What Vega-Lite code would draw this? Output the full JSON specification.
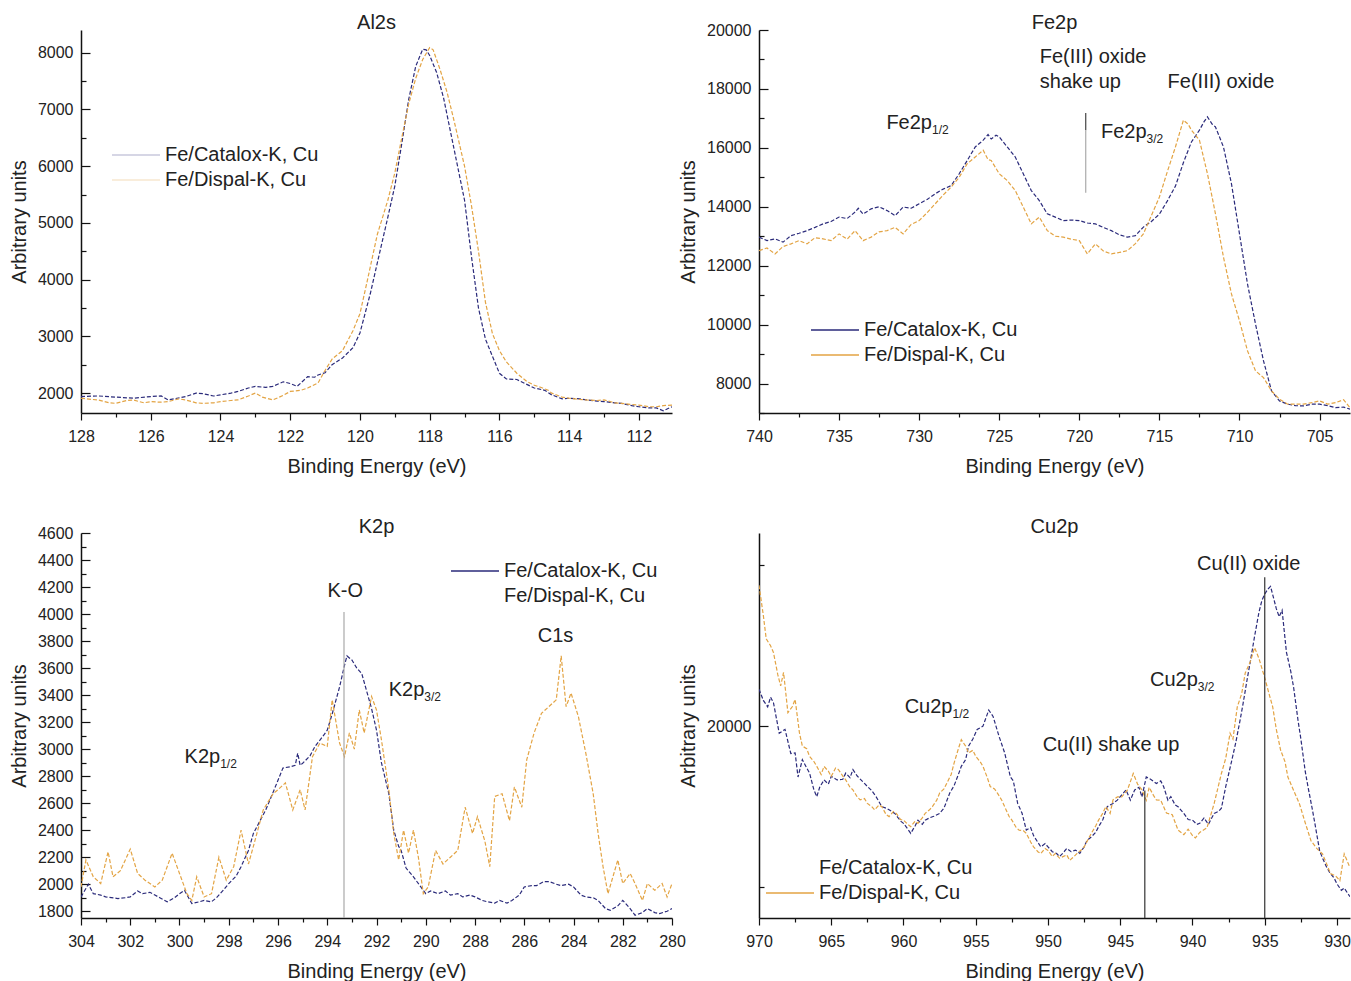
{
"$schema": "https://vega.github.io/schema/vega-lite/v6.json",
"padding": {"left": 9, "top": 13, "right": 0, "bottom": 0},
"config": {
  "font": "Liberation Sans",
  "view": {"stroke": null},
  "axis": {"labelFont": "Liberation Sans", "labelFontSize": 16, "labelColor": "#222", "titleFont": "Liberation Sans", "titleFontSize": 20, "titleFontWeight": "normal", "titleColor": "#222", "domainColor": "#111", "domainWidth": 1.5, "tickColor": "#111", "tickWidth": 1.2, "grid": false, "labelFlush": false, "labelOverlap": false, "format": "d"},
  "axisX": {"labelPadding": 8, "titlePadding": 12},
  "axisY": {"labelPadding": 17, "titlePadding": 8},
  "title": {"font": "Liberation Sans", "fontSize": 20, "fontWeight": "normal", "color": "#222", "anchor": "middle", "frame": "group", "offset": 2},
  "legend": {"orient": "none", "title": null, "symbolType": "M-1.7143,0H1.7143", "symbolSize": 784, "symbolStrokeWidth": 1.5, "symbolDash": [1, 0], "labelFont": "Liberation Sans", "labelFontSize": 20, "labelColor": "#222", "labelOffset": 14, "rowPadding": 0, "padding": 0},
  "text": {"font": "Liberation Sans", "fontSize": 20, "color": "#222"}
},
"columns": 2,
"spacing": {"row": 120, "column": 87},
"bounds": "flush",
"resolve": {"scale": {"color": "independent"}, "legend": {"color": "independent"}},
"datasets": {
"al2s": [
{"s":"Fe/Catalox-K, Cu","e":128,"i":1940},{"s":"Fe/Catalox-K, Cu","e":127.5,"i":1950},{"s":"Fe/Catalox-K, Cu","e":127,"i":1930},{"s":"Fe/Catalox-K, Cu","e":126.5,"i":1910},{"s":"Fe/Catalox-K, Cu","e":126,"i":1940},{"s":"Fe/Catalox-K, Cu","e":125.7,"i":1950},{"s":"Fe/Catalox-K, Cu","e":125.5,"i":1880},{"s":"Fe/Catalox-K, Cu","e":125,"i":1940},{"s":"Fe/Catalox-K, Cu","e":124.7,"i":2000},{"s":"Fe/Catalox-K, Cu","e":124.5,"i":1990},{"s":"Fe/Catalox-K, Cu","e":124.2,"i":1950},{"s":"Fe/Catalox-K, Cu","e":124,"i":1970},{"s":"Fe/Catalox-K, Cu","e":123.7,"i":2000},{"s":"Fe/Catalox-K, Cu","e":123.5,"i":2030},{"s":"Fe/Catalox-K, Cu","e":123.2,"i":2090},{"s":"Fe/Catalox-K, Cu","e":123,"i":2120},{"s":"Fe/Catalox-K, Cu","e":122.7,"i":2100},{"s":"Fe/Catalox-K, Cu","e":122.5,"i":2120},{"s":"Fe/Catalox-K, Cu","e":122.2,"i":2200},{"s":"Fe/Catalox-K, Cu","e":122,"i":2170},{"s":"Fe/Catalox-K, Cu","e":121.8,"i":2120},{"s":"Fe/Catalox-K, Cu","e":121.5,"i":2290},{"s":"Fe/Catalox-K, Cu","e":121.3,"i":2280},{"s":"Fe/Catalox-K, Cu","e":121.2,"i":2320},{"s":"Fe/Catalox-K, Cu","e":121,"i":2360},{"s":"Fe/Catalox-K, Cu","e":120.8,"i":2500},{"s":"Fe/Catalox-K, Cu","e":120.5,"i":2620},{"s":"Fe/Catalox-K, Cu","e":120.2,"i":2800},{"s":"Fe/Catalox-K, Cu","e":120,"i":3060},{"s":"Fe/Catalox-K, Cu","e":119.7,"i":3760},{"s":"Fe/Catalox-K, Cu","e":119.5,"i":4300},{"s":"Fe/Catalox-K, Cu","e":119.2,"i":5100},{"s":"Fe/Catalox-K, Cu","e":119,"i":5650},{"s":"Fe/Catalox-K, Cu","e":118.8,"i":6400},{"s":"Fe/Catalox-K, Cu","e":118.6,"i":7180},{"s":"Fe/Catalox-K, Cu","e":118.4,"i":7760},{"s":"Fe/Catalox-K, Cu","e":118.2,"i":8060},{"s":"Fe/Catalox-K, Cu","e":118.1,"i":8050},{"s":"Fe/Catalox-K, Cu","e":118,"i":7950},{"s":"Fe/Catalox-K, Cu","e":117.8,"i":7650},{"s":"Fe/Catalox-K, Cu","e":117.6,"i":7200},{"s":"Fe/Catalox-K, Cu","e":117.4,"i":6600},{"s":"Fe/Catalox-K, Cu","e":117.2,"i":6000},{"s":"Fe/Catalox-K, Cu","e":117,"i":5400},{"s":"Fe/Catalox-K, Cu","e":116.8,"i":4400},{"s":"Fe/Catalox-K, Cu","e":116.6,"i":3500},{"s":"Fe/Catalox-K, Cu","e":116.4,"i":2950},{"s":"Fe/Catalox-K, Cu","e":116.2,"i":2650},{"s":"Fe/Catalox-K, Cu","e":116,"i":2350},{"s":"Fe/Catalox-K, Cu","e":115.8,"i":2250},{"s":"Fe/Catalox-K, Cu","e":115.5,"i":2240},{"s":"Fe/Catalox-K, Cu","e":115.2,"i":2150},{"s":"Fe/Catalox-K, Cu","e":115,"i":2090},{"s":"Fe/Catalox-K, Cu","e":114.7,"i":2050},{"s":"Fe/Catalox-K, Cu","e":114.5,"i":1970},{"s":"Fe/Catalox-K, Cu","e":114.2,"i":1900},{"s":"Fe/Catalox-K, Cu","e":114,"i":1910},{"s":"Fe/Catalox-K, Cu","e":113.7,"i":1900},{"s":"Fe/Catalox-K, Cu","e":113.5,"i":1880},{"s":"Fe/Catalox-K, Cu","e":113.2,"i":1860},{"s":"Fe/Catalox-K, Cu","e":113,"i":1850},{"s":"Fe/Catalox-K, Cu","e":112.7,"i":1830},{"s":"Fe/Catalox-K, Cu","e":112.5,"i":1820},{"s":"Fe/Catalox-K, Cu","e":112.2,"i":1780},{"s":"Fe/Catalox-K, Cu","e":112,"i":1760},{"s":"Fe/Catalox-K, Cu","e":111.7,"i":1740},{"s":"Fe/Catalox-K, Cu","e":111.5,"i":1740},{"s":"Fe/Catalox-K, Cu","e":111.3,"i":1690},{"s":"Fe/Catalox-K, Cu","e":111.05,"i":1760},
{"s":"Fe/Dispal-K, Cu","e":128,"i":1910},{"s":"Fe/Dispal-K, Cu","e":127.7,"i":1890},{"s":"Fe/Dispal-K, Cu","e":127.5,"i":1880},{"s":"Fe/Dispal-K, Cu","e":127.2,"i":1830},{"s":"Fe/Dispal-K, Cu","e":127,"i":1820},{"s":"Fe/Dispal-K, Cu","e":126.7,"i":1870},{"s":"Fe/Dispal-K, Cu","e":126.5,"i":1880},{"s":"Fe/Dispal-K, Cu","e":126.2,"i":1830},{"s":"Fe/Dispal-K, Cu","e":126,"i":1850},{"s":"Fe/Dispal-K, Cu","e":125.7,"i":1840},{"s":"Fe/Dispal-K, Cu","e":125.5,"i":1850},{"s":"Fe/Dispal-K, Cu","e":125.2,"i":1900},{"s":"Fe/Dispal-K, Cu","e":125,"i":1880},{"s":"Fe/Dispal-K, Cu","e":124.7,"i":1830},{"s":"Fe/Dispal-K, Cu","e":124.5,"i":1820},{"s":"Fe/Dispal-K, Cu","e":124.2,"i":1830},{"s":"Fe/Dispal-K, Cu","e":124,"i":1850},{"s":"Fe/Dispal-K, Cu","e":123.7,"i":1870},{"s":"Fe/Dispal-K, Cu","e":123.5,"i":1880},{"s":"Fe/Dispal-K, Cu","e":123.2,"i":1950},{"s":"Fe/Dispal-K, Cu","e":123,"i":2000},{"s":"Fe/Dispal-K, Cu","e":122.8,"i":1930},{"s":"Fe/Dispal-K, Cu","e":122.5,"i":1880},{"s":"Fe/Dispal-K, Cu","e":122.2,"i":1960},{"s":"Fe/Dispal-K, Cu","e":122,"i":2030},{"s":"Fe/Dispal-K, Cu","e":121.7,"i":2050},{"s":"Fe/Dispal-K, Cu","e":121.5,"i":2090},{"s":"Fe/Dispal-K, Cu","e":121.2,"i":2180},{"s":"Fe/Dispal-K, Cu","e":121,"i":2400},{"s":"Fe/Dispal-K, Cu","e":120.8,"i":2600},{"s":"Fe/Dispal-K, Cu","e":120.5,"i":2750},{"s":"Fe/Dispal-K, Cu","e":120.2,"i":3100},{"s":"Fe/Dispal-K, Cu","e":120,"i":3400},{"s":"Fe/Dispal-K, Cu","e":119.8,"i":3950},{"s":"Fe/Dispal-K, Cu","e":119.5,"i":4800},{"s":"Fe/Dispal-K, Cu","e":119.2,"i":5400},{"s":"Fe/Dispal-K, Cu","e":119,"i":5880},{"s":"Fe/Dispal-K, Cu","e":118.8,"i":6500},{"s":"Fe/Dispal-K, Cu","e":118.6,"i":7100},{"s":"Fe/Dispal-K, Cu","e":118.4,"i":7550},{"s":"Fe/Dispal-K, Cu","e":118.2,"i":7880},{"s":"Fe/Dispal-K, Cu","e":118,"i":8090},{"s":"Fe/Dispal-K, Cu","e":117.9,"i":8050},{"s":"Fe/Dispal-K, Cu","e":117.7,"i":7700},{"s":"Fe/Dispal-K, Cu","e":117.5,"i":7300},{"s":"Fe/Dispal-K, Cu","e":117.3,"i":6800},{"s":"Fe/Dispal-K, Cu","e":117,"i":6000},{"s":"Fe/Dispal-K, Cu","e":116.8,"i":5300},{"s":"Fe/Dispal-K, Cu","e":116.6,"i":4500},{"s":"Fe/Dispal-K, Cu","e":116.4,"i":3600},{"s":"Fe/Dispal-K, Cu","e":116.2,"i":3050},{"s":"Fe/Dispal-K, Cu","e":116,"i":2750},{"s":"Fe/Dispal-K, Cu","e":115.8,"i":2550},{"s":"Fe/Dispal-K, Cu","e":115.5,"i":2350},{"s":"Fe/Dispal-K, Cu","e":115.2,"i":2200},{"s":"Fe/Dispal-K, Cu","e":115,"i":2140},{"s":"Fe/Dispal-K, Cu","e":114.8,"i":2100},{"s":"Fe/Dispal-K, Cu","e":114.6,"i":2050},{"s":"Fe/Dispal-K, Cu","e":114.5,"i":2000},{"s":"Fe/Dispal-K, Cu","e":114.2,"i":1930},{"s":"Fe/Dispal-K, Cu","e":114,"i":1910},{"s":"Fe/Dispal-K, Cu","e":113.7,"i":1890},{"s":"Fe/Dispal-K, Cu","e":113.5,"i":1880},{"s":"Fe/Dispal-K, Cu","e":113.2,"i":1870},{"s":"Fe/Dispal-K, Cu","e":113,"i":1880},{"s":"Fe/Dispal-K, Cu","e":112.7,"i":1830},{"s":"Fe/Dispal-K, Cu","e":112.5,"i":1820},{"s":"Fe/Dispal-K, Cu","e":112.2,"i":1800},{"s":"Fe/Dispal-K, Cu","e":112,"i":1790},{"s":"Fe/Dispal-K, Cu","e":111.7,"i":1760},{"s":"Fe/Dispal-K, Cu","e":111.5,"i":1760},{"s":"Fe/Dispal-K, Cu","e":111.3,"i":1780},{"s":"Fe/Dispal-K, Cu","e":111.05,"i":1790}
],
"fe2p": [
{"s":"Fe/Catalox-K, Cu","e":740,"i":12970},{"s":"Fe/Catalox-K, Cu","e":739.5,"i":12850},{"s":"Fe/Catalox-K, Cu","e":739,"i":12910},{"s":"Fe/Catalox-K, Cu","e":738.5,"i":12800},{"s":"Fe/Catalox-K, Cu","e":738,"i":13020},{"s":"Fe/Catalox-K, Cu","e":737.5,"i":13100},{"s":"Fe/Catalox-K, Cu","e":737,"i":13190},{"s":"Fe/Catalox-K, Cu","e":736.5,"i":13300},{"s":"Fe/Catalox-K, Cu","e":736,"i":13420},{"s":"Fe/Catalox-K, Cu","e":735.5,"i":13500},{"s":"Fe/Catalox-K, Cu","e":735,"i":13650},{"s":"Fe/Catalox-K, Cu","e":734.5,"i":13600},{"s":"Fe/Catalox-K, Cu","e":734,"i":13820},{"s":"Fe/Catalox-K, Cu","e":733.8,"i":13950},{"s":"Fe/Catalox-K, Cu","e":733.5,"i":13750},{"s":"Fe/Catalox-K, Cu","e":733,"i":13930},{"s":"Fe/Catalox-K, Cu","e":732.5,"i":14000},{"s":"Fe/Catalox-K, Cu","e":732,"i":13870},{"s":"Fe/Catalox-K, Cu","e":731.5,"i":13700},{"s":"Fe/Catalox-K, Cu","e":731,"i":13990},{"s":"Fe/Catalox-K, Cu","e":730.5,"i":13950},{"s":"Fe/Catalox-K, Cu","e":730,"i":14100},{"s":"Fe/Catalox-K, Cu","e":729.5,"i":14250},{"s":"Fe/Catalox-K, Cu","e":729,"i":14440},{"s":"Fe/Catalox-K, Cu","e":728.5,"i":14600},{"s":"Fe/Catalox-K, Cu","e":728,"i":14720},{"s":"Fe/Catalox-K, Cu","e":727.5,"i":15120},{"s":"Fe/Catalox-K, Cu","e":727,"i":15570},{"s":"Fe/Catalox-K, Cu","e":726.5,"i":16030},{"s":"Fe/Catalox-K, Cu","e":726,"i":16260},{"s":"Fe/Catalox-K, Cu","e":725.7,"i":16450},{"s":"Fe/Catalox-K, Cu","e":725.5,"i":16300},{"s":"Fe/Catalox-K, Cu","e":725.2,"i":16430},{"s":"Fe/Catalox-K, Cu","e":725,"i":16370},{"s":"Fe/Catalox-K, Cu","e":724.5,"i":16030},{"s":"Fe/Catalox-K, Cu","e":724,"i":15690},{"s":"Fe/Catalox-K, Cu","e":723.5,"i":15120},{"s":"Fe/Catalox-K, Cu","e":723,"i":14550},{"s":"Fe/Catalox-K, Cu","e":722.5,"i":14210},{"s":"Fe/Catalox-K, Cu","e":722,"i":13760},{"s":"Fe/Catalox-K, Cu","e":721.5,"i":13650},{"s":"Fe/Catalox-K, Cu","e":721,"i":13530},{"s":"Fe/Catalox-K, Cu","e":720.5,"i":13550},{"s":"Fe/Catalox-K, Cu","e":720,"i":13530},{"s":"Fe/Catalox-K, Cu","e":719.5,"i":13450},{"s":"Fe/Catalox-K, Cu","e":719,"i":13420},{"s":"Fe/Catalox-K, Cu","e":718.5,"i":13300},{"s":"Fe/Catalox-K, Cu","e":718,"i":13190},{"s":"Fe/Catalox-K, Cu","e":717.5,"i":13050},{"s":"Fe/Catalox-K, Cu","e":717,"i":12970},{"s":"Fe/Catalox-K, Cu","e":716.5,"i":13020},{"s":"Fe/Catalox-K, Cu","e":716,"i":13310},{"s":"Fe/Catalox-K, Cu","e":715.5,"i":13500},{"s":"Fe/Catalox-K, Cu","e":715,"i":13750},{"s":"Fe/Catalox-K, Cu","e":714.5,"i":14200},{"s":"Fe/Catalox-K, Cu","e":714,"i":14700},{"s":"Fe/Catalox-K, Cu","e":713.5,"i":15500},{"s":"Fe/Catalox-K, Cu","e":713,"i":16200},{"s":"Fe/Catalox-K, Cu","e":712.5,"i":16600},{"s":"Fe/Catalox-K, Cu","e":712.2,"i":16900},{"s":"Fe/Catalox-K, Cu","e":712,"i":17050},{"s":"Fe/Catalox-K, Cu","e":711.7,"i":16800},{"s":"Fe/Catalox-K, Cu","e":711.5,"i":16710},{"s":"Fe/Catalox-K, Cu","e":711,"i":16030},{"s":"Fe/Catalox-K, Cu","e":710.5,"i":14780},{"s":"Fe/Catalox-K, Cu","e":710,"i":13080},{"s":"Fe/Catalox-K, Cu","e":709.5,"i":11380},{"s":"Fe/Catalox-K, Cu","e":709,"i":10020},{"s":"Fe/Catalox-K, Cu","e":708.5,"i":8770},{"s":"Fe/Catalox-K, Cu","e":708,"i":7750},{"s":"Fe/Catalox-K, Cu","e":707.5,"i":7410},{"s":"Fe/Catalox-K, Cu","e":707,"i":7300},{"s":"Fe/Catalox-K, Cu","e":706.5,"i":7250},{"s":"Fe/Catalox-K, Cu","e":706,"i":7240},{"s":"Fe/Catalox-K, Cu","e":705.5,"i":7300},{"s":"Fe/Catalox-K, Cu","e":705,"i":7300},{"s":"Fe/Catalox-K, Cu","e":704.5,"i":7250},{"s":"Fe/Catalox-K, Cu","e":704,"i":7180},{"s":"Fe/Catalox-K, Cu","e":703.5,"i":7200},{"s":"Fe/Catalox-K, Cu","e":703.1,"i":7130},
{"s":"Fe/Dispal-K, Cu","e":740,"i":12510},{"s":"Fe/Dispal-K, Cu","e":739.5,"i":12600},{"s":"Fe/Dispal-K, Cu","e":739,"i":12400},{"s":"Fe/Dispal-K, Cu","e":738.5,"i":12650},{"s":"Fe/Dispal-K, Cu","e":738,"i":12740},{"s":"Fe/Dispal-K, Cu","e":737.5,"i":12850},{"s":"Fe/Dispal-K, Cu","e":737,"i":12740},{"s":"Fe/Dispal-K, Cu","e":736.5,"i":12950},{"s":"Fe/Dispal-K, Cu","e":736,"i":12910},{"s":"Fe/Dispal-K, Cu","e":735.5,"i":12850},{"s":"Fe/Dispal-K, Cu","e":735,"i":13080},{"s":"Fe/Dispal-K, Cu","e":734.5,"i":12900},{"s":"Fe/Dispal-K, Cu","e":734,"i":13190},{"s":"Fe/Dispal-K, Cu","e":733.5,"i":12850},{"s":"Fe/Dispal-K, Cu","e":733,"i":12970},{"s":"Fe/Dispal-K, Cu","e":732.5,"i":13150},{"s":"Fe/Dispal-K, Cu","e":732,"i":13190},{"s":"Fe/Dispal-K, Cu","e":731.5,"i":13300},{"s":"Fe/Dispal-K, Cu","e":731,"i":13080},{"s":"Fe/Dispal-K, Cu","e":730.5,"i":13400},{"s":"Fe/Dispal-K, Cu","e":730,"i":13530},{"s":"Fe/Dispal-K, Cu","e":729.5,"i":13800},{"s":"Fe/Dispal-K, Cu","e":729,"i":14100},{"s":"Fe/Dispal-K, Cu","e":728.5,"i":14400},{"s":"Fe/Dispal-K, Cu","e":728,"i":14670},{"s":"Fe/Dispal-K, Cu","e":727.5,"i":15000},{"s":"Fe/Dispal-K, Cu","e":727,"i":15460},{"s":"Fe/Dispal-K, Cu","e":726.5,"i":15690},{"s":"Fe/Dispal-K, Cu","e":726,"i":15920},{"s":"Fe/Dispal-K, Cu","e":725.7,"i":15600},{"s":"Fe/Dispal-K, Cu","e":725.5,"i":15570},{"s":"Fe/Dispal-K, Cu","e":725,"i":15120},{"s":"Fe/Dispal-K, Cu","e":724.5,"i":14890},{"s":"Fe/Dispal-K, Cu","e":724,"i":14550},{"s":"Fe/Dispal-K, Cu","e":723.5,"i":13990},{"s":"Fe/Dispal-K, Cu","e":723,"i":13420},{"s":"Fe/Dispal-K, Cu","e":722.5,"i":13650},{"s":"Fe/Dispal-K, Cu","e":722,"i":13190},{"s":"Fe/Dispal-K, Cu","e":721.5,"i":13000},{"s":"Fe/Dispal-K, Cu","e":721,"i":12970},{"s":"Fe/Dispal-K, Cu","e":720.5,"i":12900},{"s":"Fe/Dispal-K, Cu","e":720,"i":12850},{"s":"Fe/Dispal-K, Cu","e":719.5,"i":12400},{"s":"Fe/Dispal-K, Cu","e":719,"i":12740},{"s":"Fe/Dispal-K, Cu","e":718.5,"i":12500},{"s":"Fe/Dispal-K, Cu","e":718,"i":12400},{"s":"Fe/Dispal-K, Cu","e":717.5,"i":12450},{"s":"Fe/Dispal-K, Cu","e":717,"i":12510},{"s":"Fe/Dispal-K, Cu","e":716.5,"i":12750},{"s":"Fe/Dispal-K, Cu","e":716,"i":13080},{"s":"Fe/Dispal-K, Cu","e":715.5,"i":13700},{"s":"Fe/Dispal-K, Cu","e":715,"i":14330},{"s":"Fe/Dispal-K, Cu","e":714.5,"i":15200},{"s":"Fe/Dispal-K, Cu","e":714,"i":16030},{"s":"Fe/Dispal-K, Cu","e":713.5,"i":16940},{"s":"Fe/Dispal-K, Cu","e":713.2,"i":16800},{"s":"Fe/Dispal-K, Cu","e":713,"i":16600},{"s":"Fe/Dispal-K, Cu","e":712.5,"i":16260},{"s":"Fe/Dispal-K, Cu","e":712,"i":15120},{"s":"Fe/Dispal-K, Cu","e":711.5,"i":13760},{"s":"Fe/Dispal-K, Cu","e":711,"i":12290},{"s":"Fe/Dispal-K, Cu","e":710.5,"i":11040},{"s":"Fe/Dispal-K, Cu","e":710,"i":10130},{"s":"Fe/Dispal-K, Cu","e":709.5,"i":9110},{"s":"Fe/Dispal-K, Cu","e":709,"i":8430},{"s":"Fe/Dispal-K, Cu","e":708.5,"i":8200},{"s":"Fe/Dispal-K, Cu","e":708,"i":7750},{"s":"Fe/Dispal-K, Cu","e":707.5,"i":7470},{"s":"Fe/Dispal-K, Cu","e":707,"i":7300},{"s":"Fe/Dispal-K, Cu","e":706,"i":7300},{"s":"Fe/Dispal-K, Cu","e":705.5,"i":7350},{"s":"Fe/Dispal-K, Cu","e":705,"i":7410},{"s":"Fe/Dispal-K, Cu","e":704.5,"i":7300},{"s":"Fe/Dispal-K, Cu","e":704,"i":7350},{"s":"Fe/Dispal-K, Cu","e":703.5,"i":7450},{"s":"Fe/Dispal-K, Cu","e":703.1,"i":7180}
],
"k2p": [
{"s":"Fe/Catalox-K, Cu","e":304,"i":1906},{"s":"Fe/Catalox-K, Cu","e":303.7,"i":2000},{"s":"Fe/Catalox-K, Cu","e":303.5,"i":1930},{"s":"Fe/Catalox-K, Cu","e":303.2,"i":1920},{"s":"Fe/Catalox-K, Cu","e":303,"i":1906},{"s":"Fe/Catalox-K, Cu","e":302.5,"i":1894},{"s":"Fe/Catalox-K, Cu","e":302.2,"i":1900},{"s":"Fe/Catalox-K, Cu","e":302,"i":1906},{"s":"Fe/Catalox-K, Cu","e":301.7,"i":1950},{"s":"Fe/Catalox-K, Cu","e":301.5,"i":1930},{"s":"Fe/Catalox-K, Cu","e":301.2,"i":1940},{"s":"Fe/Catalox-K, Cu","e":301,"i":1920},{"s":"Fe/Catalox-K, Cu","e":300.8,"i":1900},{"s":"Fe/Catalox-K, Cu","e":300.5,"i":1870},{"s":"Fe/Catalox-K, Cu","e":300.2,"i":1900},{"s":"Fe/Catalox-K, Cu","e":300,"i":1930},{"s":"Fe/Catalox-K, Cu","e":299.8,"i":1955},{"s":"Fe/Catalox-K, Cu","e":299.5,"i":1857},{"s":"Fe/Catalox-K, Cu","e":299.2,"i":1870},{"s":"Fe/Catalox-K, Cu","e":299,"i":1880},{"s":"Fe/Catalox-K, Cu","e":298.7,"i":1870},{"s":"Fe/Catalox-K, Cu","e":298.5,"i":1900},{"s":"Fe/Catalox-K, Cu","e":298.2,"i":1960},{"s":"Fe/Catalox-K, Cu","e":298,"i":2005},{"s":"Fe/Catalox-K, Cu","e":297.7,"i":2060},{"s":"Fe/Catalox-K, Cu","e":297.5,"i":2130},{"s":"Fe/Catalox-K, Cu","e":297.2,"i":2250},{"s":"Fe/Catalox-K, Cu","e":297,"i":2376},{"s":"Fe/Catalox-K, Cu","e":296.7,"i":2480},{"s":"Fe/Catalox-K, Cu","e":296.5,"i":2549},{"s":"Fe/Catalox-K, Cu","e":296.2,"i":2680},{"s":"Fe/Catalox-K, Cu","e":296,"i":2770},{"s":"Fe/Catalox-K, Cu","e":295.8,"i":2860},{"s":"Fe/Catalox-K, Cu","e":295.5,"i":2870},{"s":"Fe/Catalox-K, Cu","e":295.3,"i":2880},{"s":"Fe/Catalox-K, Cu","e":295.2,"i":2970},{"s":"Fe/Catalox-K, Cu","e":295.1,"i":2880},{"s":"Fe/Catalox-K, Cu","e":295,"i":2895},{"s":"Fe/Catalox-K, Cu","e":294.7,"i":2950},{"s":"Fe/Catalox-K, Cu","e":294.5,"i":3020},{"s":"Fe/Catalox-K, Cu","e":294.2,"i":3090},{"s":"Fe/Catalox-K, Cu","e":294,"i":3140},{"s":"Fe/Catalox-K, Cu","e":293.8,"i":3260},{"s":"Fe/Catalox-K, Cu","e":293.5,"i":3460},{"s":"Fe/Catalox-K, Cu","e":293.3,"i":3620},{"s":"Fe/Catalox-K, Cu","e":293.2,"i":3690},{"s":"Fe/Catalox-K, Cu","e":293,"i":3660},{"s":"Fe/Catalox-K, Cu","e":292.8,"i":3600},{"s":"Fe/Catalox-K, Cu","e":292.6,"i":3560},{"s":"Fe/Catalox-K, Cu","e":292.4,"i":3430},{"s":"Fe/Catalox-K, Cu","e":292.2,"i":3300},{"s":"Fe/Catalox-K, Cu","e":292,"i":3140},{"s":"Fe/Catalox-K, Cu","e":291.8,"i":2900},{"s":"Fe/Catalox-K, Cu","e":291.5,"i":2670},{"s":"Fe/Catalox-K, Cu","e":291.3,"i":2400},{"s":"Fe/Catalox-K, Cu","e":291.1,"i":2280},{"s":"Fe/Catalox-K, Cu","e":291,"i":2250},{"s":"Fe/Catalox-K, Cu","e":290.8,"i":2120},{"s":"Fe/Catalox-K, Cu","e":290.5,"i":2055},{"s":"Fe/Catalox-K, Cu","e":290.2,"i":1980},{"s":"Fe/Catalox-K, Cu","e":290,"i":1930},{"s":"Fe/Catalox-K, Cu","e":289.8,"i":1950},{"s":"Fe/Catalox-K, Cu","e":289.5,"i":1930},{"s":"Fe/Catalox-K, Cu","e":289.2,"i":1950},{"s":"Fe/Catalox-K, Cu","e":289,"i":1920},{"s":"Fe/Catalox-K, Cu","e":288.7,"i":1930},{"s":"Fe/Catalox-K, Cu","e":288.5,"i":1906},{"s":"Fe/Catalox-K, Cu","e":288.2,"i":1920},{"s":"Fe/Catalox-K, Cu","e":288,"i":1906},{"s":"Fe/Catalox-K, Cu","e":287.7,"i":1880},{"s":"Fe/Catalox-K, Cu","e":287.5,"i":1870},{"s":"Fe/Catalox-K, Cu","e":287.2,"i":1860},{"s":"Fe/Catalox-K, Cu","e":287,"i":1880},{"s":"Fe/Catalox-K, Cu","e":286.7,"i":1860},{"s":"Fe/Catalox-K, Cu","e":286.5,"i":1880},{"s":"Fe/Catalox-K, Cu","e":286.2,"i":1920},{"s":"Fe/Catalox-K, Cu","e":286,"i":1980},{"s":"Fe/Catalox-K, Cu","e":285.7,"i":1990},{"s":"Fe/Catalox-K, Cu","e":285.5,"i":1990},{"s":"Fe/Catalox-K, Cu","e":285.2,"i":2020},{"s":"Fe/Catalox-K, Cu","e":285,"i":2020},{"s":"Fe/Catalox-K, Cu","e":284.7,"i":2000},{"s":"Fe/Catalox-K, Cu","e":284.5,"i":1990},{"s":"Fe/Catalox-K, Cu","e":284.2,"i":2000},{"s":"Fe/Catalox-K, Cu","e":284,"i":1980},{"s":"Fe/Catalox-K, Cu","e":283.7,"i":1920},{"s":"Fe/Catalox-K, Cu","e":283.5,"i":1906},{"s":"Fe/Catalox-K, Cu","e":283.2,"i":1900},{"s":"Fe/Catalox-K, Cu","e":283,"i":1880},{"s":"Fe/Catalox-K, Cu","e":282.7,"i":1820},{"s":"Fe/Catalox-K, Cu","e":282.5,"i":1807},{"s":"Fe/Catalox-K, Cu","e":282.2,"i":1840},{"s":"Fe/Catalox-K, Cu","e":282,"i":1880},{"s":"Fe/Catalox-K, Cu","e":281.7,"i":1820},{"s":"Fe/Catalox-K, Cu","e":281.5,"i":1770},{"s":"Fe/Catalox-K, Cu","e":281.2,"i":1790},{"s":"Fe/Catalox-K, Cu","e":281,"i":1820},{"s":"Fe/Catalox-K, Cu","e":280.7,"i":1790},{"s":"Fe/Catalox-K, Cu","e":280.5,"i":1783},{"s":"Fe/Catalox-K, Cu","e":280.2,"i":1800},{"s":"Fe/Catalox-K, Cu","e":280,"i":1820},
{"s":"Fe/Dispal-K, Cu","e":304,"i":1980},{"s":"Fe/Dispal-K, Cu","e":303.8,"i":2180},{"s":"Fe/Dispal-K, Cu","e":303.5,"i":2055},{"s":"Fe/Dispal-K, Cu","e":303.2,"i":2005},{"s":"Fe/Dispal-K, Cu","e":302.9,"i":2240},{"s":"Fe/Dispal-K, Cu","e":302.7,"i":2055},{"s":"Fe/Dispal-K, Cu","e":302.4,"i":2100},{"s":"Fe/Dispal-K, Cu","e":302,"i":2260},{"s":"Fe/Dispal-K, Cu","e":301.7,"i":2080},{"s":"Fe/Dispal-K, Cu","e":301.4,"i":2030},{"s":"Fe/Dispal-K, Cu","e":301,"i":1980},{"s":"Fe/Dispal-K, Cu","e":300.7,"i":2030},{"s":"Fe/Dispal-K, Cu","e":300.3,"i":2230},{"s":"Fe/Dispal-K, Cu","e":300,"i":2080},{"s":"Fe/Dispal-K, Cu","e":299.7,"i":1930},{"s":"Fe/Dispal-K, Cu","e":299.5,"i":1880},{"s":"Fe/Dispal-K, Cu","e":299.3,"i":2055},{"s":"Fe/Dispal-K, Cu","e":299,"i":1906},{"s":"Fe/Dispal-K, Cu","e":298.7,"i":1930},{"s":"Fe/Dispal-K, Cu","e":298.4,"i":2200},{"s":"Fe/Dispal-K, Cu","e":298.1,"i":2030},{"s":"Fe/Dispal-K, Cu","e":297.8,"i":2130},{"s":"Fe/Dispal-K, Cu","e":297.5,"i":2400},{"s":"Fe/Dispal-K, Cu","e":297.2,"i":2150},{"s":"Fe/Dispal-K, Cu","e":297,"i":2280},{"s":"Fe/Dispal-K, Cu","e":296.6,"i":2550},{"s":"Fe/Dispal-K, Cu","e":296.2,"i":2670},{"s":"Fe/Dispal-K, Cu","e":296,"i":2700},{"s":"Fe/Dispal-K, Cu","e":295.7,"i":2750},{"s":"Fe/Dispal-K, Cu","e":295.4,"i":2550},{"s":"Fe/Dispal-K, Cu","e":295.1,"i":2700},{"s":"Fe/Dispal-K, Cu","e":294.9,"i":2550},{"s":"Fe/Dispal-K, Cu","e":294.6,"i":2944},{"s":"Fe/Dispal-K, Cu","e":294.3,"i":3045},{"s":"Fe/Dispal-K, Cu","e":294,"i":3020},{"s":"Fe/Dispal-K, Cu","e":293.8,"i":3365},{"s":"Fe/Dispal-K, Cu","e":293.5,"i":3045},{"s":"Fe/Dispal-K, Cu","e":293.3,"i":2944},{"s":"Fe/Dispal-K, Cu","e":293.1,"i":3120},{"s":"Fe/Dispal-K, Cu","e":292.9,"i":3000},{"s":"Fe/Dispal-K, Cu","e":292.7,"i":3290},{"s":"Fe/Dispal-K, Cu","e":292.5,"i":3120},{"s":"Fe/Dispal-K, Cu","e":292.2,"i":3390},{"s":"Fe/Dispal-K, Cu","e":292,"i":3290},{"s":"Fe/Dispal-K, Cu","e":291.8,"i":3070},{"s":"Fe/Dispal-K, Cu","e":291.5,"i":2700},{"s":"Fe/Dispal-K, Cu","e":291.3,"i":2376},{"s":"Fe/Dispal-K, Cu","e":291.1,"i":2180},{"s":"Fe/Dispal-K, Cu","e":290.9,"i":2400},{"s":"Fe/Dispal-K, Cu","e":290.7,"i":2230},{"s":"Fe/Dispal-K, Cu","e":290.5,"i":2400},{"s":"Fe/Dispal-K, Cu","e":290.3,"i":2200},{"s":"Fe/Dispal-K, Cu","e":290.1,"i":1930},{"s":"Fe/Dispal-K, Cu","e":289.9,"i":1980},{"s":"Fe/Dispal-K, Cu","e":289.6,"i":2250},{"s":"Fe/Dispal-K, Cu","e":289.3,"i":2150},{"s":"Fe/Dispal-K, Cu","e":289,"i":2200},{"s":"Fe/Dispal-K, Cu","e":288.7,"i":2250},{"s":"Fe/Dispal-K, Cu","e":288.4,"i":2570},{"s":"Fe/Dispal-K, Cu","e":288.1,"i":2376},{"s":"Fe/Dispal-K, Cu","e":287.9,"i":2500},{"s":"Fe/Dispal-K, Cu","e":287.6,"i":2320},{"s":"Fe/Dispal-K, Cu","e":287.4,"i":2130},{"s":"Fe/Dispal-K, Cu","e":287.2,"i":2650},{"s":"Fe/Dispal-K, Cu","e":286.9,"i":2670},{"s":"Fe/Dispal-K, Cu","e":286.6,"i":2470},{"s":"Fe/Dispal-K, Cu","e":286.4,"i":2720},{"s":"Fe/Dispal-K, Cu","e":286.1,"i":2570},{"s":"Fe/Dispal-K, Cu","e":285.9,"i":2920},{"s":"Fe/Dispal-K, Cu","e":285.6,"i":3120},{"s":"Fe/Dispal-K, Cu","e":285.3,"i":3265},{"s":"Fe/Dispal-K, Cu","e":285,"i":3315},{"s":"Fe/Dispal-K, Cu","e":284.7,"i":3365},{"s":"Fe/Dispal-K, Cu","e":284.5,"i":3690},{"s":"Fe/Dispal-K, Cu","e":284.3,"i":3315},{"s":"Fe/Dispal-K, Cu","e":284.1,"i":3415},{"s":"Fe/Dispal-K, Cu","e":283.8,"i":3240},{"s":"Fe/Dispal-K, Cu","e":283.5,"i":2970},{"s":"Fe/Dispal-K, Cu","e":283.2,"i":2670},{"s":"Fe/Dispal-K, Cu","e":283,"i":2376},{"s":"Fe/Dispal-K, Cu","e":282.8,"i":2130},{"s":"Fe/Dispal-K, Cu","e":282.6,"i":1930},{"s":"Fe/Dispal-K, Cu","e":282.4,"i":2055},{"s":"Fe/Dispal-K, Cu","e":282.2,"i":2180},{"s":"Fe/Dispal-K, Cu","e":282,"i":2005},{"s":"Fe/Dispal-K, Cu","e":281.7,"i":2080},{"s":"Fe/Dispal-K, Cu","e":281.5,"i":2005},{"s":"Fe/Dispal-K, Cu","e":281.2,"i":1880},{"s":"Fe/Dispal-K, Cu","e":281,"i":2005},{"s":"Fe/Dispal-K, Cu","e":280.7,"i":1955},{"s":"Fe/Dispal-K, Cu","e":280.4,"i":2005},{"s":"Fe/Dispal-K, Cu","e":280.2,"i":1906},{"s":"Fe/Dispal-K, Cu","e":280,"i":2005}
],
"cu2p": [
{"s":"Fe/Catalox-K, Cu","e":970,"i":21150},{"s":"Fe/Catalox-K, Cu","e":969.7,"i":20800},{"s":"Fe/Catalox-K, Cu","e":969.4,"i":20600},{"s":"Fe/Catalox-K, Cu","e":969.2,"i":20900},{"s":"Fe/Catalox-K, Cu","e":969,"i":20730},{"s":"Fe/Catalox-K, Cu","e":968.6,"i":19780},{"s":"Fe/Catalox-K, Cu","e":968.2,"i":19900},{"s":"Fe/Catalox-K, Cu","e":967.8,"i":19150},{"s":"Fe/Catalox-K, Cu","e":967.5,"i":19170},{"s":"Fe/Catalox-K, Cu","e":967.3,"i":18420},{"s":"Fe/Catalox-K, Cu","e":967,"i":18960},{"s":"Fe/Catalox-K, Cu","e":966.7,"i":18700},{"s":"Fe/Catalox-K, Cu","e":966.5,"i":18540},{"s":"Fe/Catalox-K, Cu","e":966.2,"i":18020},{"s":"Fe/Catalox-K, Cu","e":966,"i":17810},{"s":"Fe/Catalox-K, Cu","e":965.8,"i":18100},{"s":"Fe/Catalox-K, Cu","e":965.5,"i":18330},{"s":"Fe/Catalox-K, Cu","e":965.2,"i":18200},{"s":"Fe/Catalox-K, Cu","e":965,"i":18440},{"s":"Fe/Catalox-K, Cu","e":964.6,"i":18330},{"s":"Fe/Catalox-K, Cu","e":964.2,"i":18350},{"s":"Fe/Catalox-K, Cu","e":964,"i":18540},{"s":"Fe/Catalox-K, Cu","e":963.7,"i":18400},{"s":"Fe/Catalox-K, Cu","e":963.5,"i":18650},{"s":"Fe/Catalox-K, Cu","e":963.2,"i":18450},{"s":"Fe/Catalox-K, Cu","e":962.7,"i":18220},{"s":"Fe/Catalox-K, Cu","e":962.5,"i":18125},{"s":"Fe/Catalox-K, Cu","e":962.2,"i":18000},{"s":"Fe/Catalox-K, Cu","e":961.9,"i":17810},{"s":"Fe/Catalox-K, Cu","e":961.5,"i":17500},{"s":"Fe/Catalox-K, Cu","e":961.2,"i":17450},{"s":"Fe/Catalox-K, Cu","e":961,"i":17400},{"s":"Fe/Catalox-K, Cu","e":960.6,"i":17290},{"s":"Fe/Catalox-K, Cu","e":960.2,"i":17050},{"s":"Fe/Catalox-K, Cu","e":960,"i":16980},{"s":"Fe/Catalox-K, Cu","e":959.7,"i":16800},{"s":"Fe/Catalox-K, Cu","e":959.5,"i":16670},{"s":"Fe/Catalox-K, Cu","e":959.2,"i":16900},{"s":"Fe/Catalox-K, Cu","e":959,"i":17080},{"s":"Fe/Catalox-K, Cu","e":958.7,"i":16950},{"s":"Fe/Catalox-K, Cu","e":958.5,"i":17080},{"s":"Fe/Catalox-K, Cu","e":958.2,"i":17150},{"s":"Fe/Catalox-K, Cu","e":957.9,"i":17200},{"s":"Fe/Catalox-K, Cu","e":957.5,"i":17290},{"s":"Fe/Catalox-K, Cu","e":957.2,"i":17450},{"s":"Fe/Catalox-K, Cu","e":956.8,"i":17920},{"s":"Fe/Catalox-K, Cu","e":956.5,"i":18150},{"s":"Fe/Catalox-K, Cu","e":956.2,"i":18500},{"s":"Fe/Catalox-K, Cu","e":956,"i":18750},{"s":"Fe/Catalox-K, Cu","e":955.7,"i":18960},{"s":"Fe/Catalox-K, Cu","e":955.5,"i":19380},{"s":"Fe/Catalox-K, Cu","e":955.2,"i":19600},{"s":"Fe/Catalox-K, Cu","e":954.9,"i":19900},{"s":"Fe/Catalox-K, Cu","e":954.5,"i":20000},{"s":"Fe/Catalox-K, Cu","e":954.1,"i":20500},{"s":"Fe/Catalox-K, Cu","e":953.8,"i":20300},{"s":"Fe/Catalox-K, Cu","e":953.4,"i":19700},{"s":"Fe/Catalox-K, Cu","e":953,"i":19170},{"s":"Fe/Catalox-K, Cu","e":952.6,"i":18420},{"s":"Fe/Catalox-K, Cu","e":952.4,"i":18300},{"s":"Fe/Catalox-K, Cu","e":952.1,"i":17600},{"s":"Fe/Catalox-K, Cu","e":951.8,"i":17300},{"s":"Fe/Catalox-K, Cu","e":951.5,"i":16770},{"s":"Fe/Catalox-K, Cu","e":951.2,"i":16850},{"s":"Fe/Catalox-K, Cu","e":951,"i":16600},{"s":"Fe/Catalox-K, Cu","e":950.5,"i":16250},{"s":"Fe/Catalox-K, Cu","e":950.2,"i":16350},{"s":"Fe/Catalox-K, Cu","e":950,"i":16250},{"s":"Fe/Catalox-K, Cu","e":949.7,"i":16100},{"s":"Fe/Catalox-K, Cu","e":949.4,"i":16040},{"s":"Fe/Catalox-K, Cu","e":949.2,"i":15950},{"s":"Fe/Catalox-K, Cu","e":949,"i":16040},{"s":"Fe/Catalox-K, Cu","e":948.7,"i":16200},{"s":"Fe/Catalox-K, Cu","e":948.4,"i":16100},{"s":"Fe/Catalox-K, Cu","e":948.1,"i":16150},{"s":"Fe/Catalox-K, Cu","e":947.8,"i":16050},{"s":"Fe/Catalox-K, Cu","e":947.5,"i":16250},{"s":"Fe/Catalox-K, Cu","e":947.3,"i":16450},{"s":"Fe/Catalox-K, Cu","e":947,"i":16560},{"s":"Fe/Catalox-K, Cu","e":946.7,"i":16700},{"s":"Fe/Catalox-K, Cu","e":946.5,"i":16875},{"s":"Fe/Catalox-K, Cu","e":946.2,"i":17100},{"s":"Fe/Catalox-K, Cu","e":945.9,"i":17500},{"s":"Fe/Catalox-K, Cu","e":945.5,"i":17600},{"s":"Fe/Catalox-K, Cu","e":945.2,"i":17700},{"s":"Fe/Catalox-K, Cu","e":945,"i":17810},{"s":"Fe/Catalox-K, Cu","e":944.6,"i":18020},{"s":"Fe/Catalox-K, Cu","e":944.3,"i":17700},{"s":"Fe/Catalox-K, Cu","e":944,"i":18020},{"s":"Fe/Catalox-K, Cu","e":943.7,"i":18100},{"s":"Fe/Catalox-K, Cu","e":943.5,"i":17800},{"s":"Fe/Catalox-K, Cu","e":943.2,"i":18420},{"s":"Fe/Catalox-K, Cu","e":942.9,"i":18350},{"s":"Fe/Catalox-K, Cu","e":942.5,"i":18220},{"s":"Fe/Catalox-K, Cu","e":942.2,"i":18300},{"s":"Fe/Catalox-K, Cu","e":942,"i":18125},{"s":"Fe/Catalox-K, Cu","e":941.7,"i":17700},{"s":"Fe/Catalox-K, Cu","e":941.5,"i":17810},{"s":"Fe/Catalox-K, Cu","e":941.2,"i":17550},{"s":"Fe/Catalox-K, Cu","e":941,"i":17500},{"s":"Fe/Catalox-K, Cu","e":940.6,"i":17290},{"s":"Fe/Catalox-K, Cu","e":940.3,"i":17100},{"s":"Fe/Catalox-K, Cu","e":940,"i":17080},{"s":"Fe/Catalox-K, Cu","e":939.7,"i":16950},{"s":"Fe/Catalox-K, Cu","e":939.5,"i":16980},{"s":"Fe/Catalox-K, Cu","e":939.2,"i":17150},{"s":"Fe/Catalox-K, Cu","e":938.9,"i":16950},{"s":"Fe/Catalox-K, Cu","e":938.5,"i":17290},{"s":"Fe/Catalox-K, Cu","e":938.2,"i":17350},{"s":"Fe/Catalox-K, Cu","e":938,"i":17450},{"s":"Fe/Catalox-K, Cu","e":937.7,"i":18120},{"s":"Fe/Catalox-K, Cu","e":937.3,"i":18900},{"s":"Fe/Catalox-K, Cu","e":937,"i":19500},{"s":"Fe/Catalox-K, Cu","e":936.7,"i":20200},{"s":"Fe/Catalox-K, Cu","e":936.5,"i":20700},{"s":"Fe/Catalox-K, Cu","e":936.2,"i":21500},{"s":"Fe/Catalox-K, Cu","e":936,"i":22000},{"s":"Fe/Catalox-K, Cu","e":935.7,"i":22800},{"s":"Fe/Catalox-K, Cu","e":935.4,"i":23540},{"s":"Fe/Catalox-K, Cu","e":935.2,"i":23900},{"s":"Fe/Catalox-K, Cu","e":935,"i":24100},{"s":"Fe/Catalox-K, Cu","e":934.8,"i":24250},{"s":"Fe/Catalox-K, Cu","e":934.6,"i":24340},{"s":"Fe/Catalox-K, Cu","e":934.4,"i":24000},{"s":"Fe/Catalox-K, Cu","e":934.2,"i":23650},{"s":"Fe/Catalox-K, Cu","e":934,"i":23400},{"s":"Fe/Catalox-K, Cu","e":933.8,"i":23600},{"s":"Fe/Catalox-K, Cu","e":933.5,"i":22300},{"s":"Fe/Catalox-K, Cu","e":933.2,"i":21700},{"s":"Fe/Catalox-K, Cu","e":933,"i":21200},{"s":"Fe/Catalox-K, Cu","e":932.7,"i":20190},{"s":"Fe/Catalox-K, Cu","e":932.5,"i":19600},{"s":"Fe/Catalox-K, Cu","e":932.2,"i":18600},{"s":"Fe/Catalox-K, Cu","e":932,"i":18100},{"s":"Fe/Catalox-K, Cu","e":931.7,"i":17400},{"s":"Fe/Catalox-K, Cu","e":931.5,"i":16900},{"s":"Fe/Catalox-K, Cu","e":931.2,"i":16125},{"s":"Fe/Catalox-K, Cu","e":931,"i":15900},{"s":"Fe/Catalox-K, Cu","e":930.7,"i":15600},{"s":"Fe/Catalox-K, Cu","e":930.5,"i":15450},{"s":"Fe/Catalox-K, Cu","e":930.2,"i":15280},{"s":"Fe/Catalox-K, Cu","e":930,"i":15100},{"s":"Fe/Catalox-K, Cu","e":929.7,"i":14900},{"s":"Fe/Catalox-K, Cu","e":929.5,"i":14970},{"s":"Fe/Catalox-K, Cu","e":929.1,"i":14700},
{"s":"Fe/Dispal-K, Cu","e":970,"i":24375},{"s":"Fe/Dispal-K, Cu","e":969.7,"i":23440},{"s":"Fe/Dispal-K, Cu","e":969.5,"i":22710},{"s":"Fe/Dispal-K, Cu","e":969.2,"i":22500},{"s":"Fe/Dispal-K, Cu","e":969,"i":22290},{"s":"Fe/Dispal-K, Cu","e":968.7,"i":21600},{"s":"Fe/Dispal-K, Cu","e":968.5,"i":21250},{"s":"Fe/Dispal-K, Cu","e":968.3,"i":21670},{"s":"Fe/Dispal-K, Cu","e":968,"i":20420},{"s":"Fe/Dispal-K, Cu","e":967.7,"i":20600},{"s":"Fe/Dispal-K, Cu","e":967.5,"i":20830},{"s":"Fe/Dispal-K, Cu","e":967.2,"i":19790},{"s":"Fe/Dispal-K, Cu","e":967,"i":19380},{"s":"Fe/Dispal-K, Cu","e":966.7,"i":19300},{"s":"Fe/Dispal-K, Cu","e":966.5,"i":19060},{"s":"Fe/Dispal-K, Cu","e":966.2,"i":18900},{"s":"Fe/Dispal-K, Cu","e":966,"i":18750},{"s":"Fe/Dispal-K, Cu","e":965.7,"i":18500},{"s":"Fe/Dispal-K, Cu","e":965.5,"i":18750},{"s":"Fe/Dispal-K, Cu","e":965.2,"i":18600},{"s":"Fe/Dispal-K, Cu","e":965,"i":18440},{"s":"Fe/Dispal-K, Cu","e":964.7,"i":18700},{"s":"Fe/Dispal-K, Cu","e":964.5,"i":18650},{"s":"Fe/Dispal-K, Cu","e":964.2,"i":18450},{"s":"Fe/Dispal-K, Cu","e":964,"i":18330},{"s":"Fe/Dispal-K, Cu","e":963.7,"i":18100},{"s":"Fe/Dispal-K, Cu","e":963.5,"i":18020},{"s":"Fe/Dispal-K, Cu","e":963.2,"i":17800},{"s":"Fe/Dispal-K, Cu","e":963,"i":17710},{"s":"Fe/Dispal-K, Cu","e":962.7,"i":17750},{"s":"Fe/Dispal-K, Cu","e":962.5,"i":17600},{"s":"Fe/Dispal-K, Cu","e":962.2,"i":17500},{"s":"Fe/Dispal-K, Cu","e":962,"i":17400},{"s":"Fe/Dispal-K, Cu","e":961.7,"i":17550},{"s":"Fe/Dispal-K, Cu","e":961.5,"i":17500},{"s":"Fe/Dispal-K, Cu","e":961.2,"i":17250},{"s":"Fe/Dispal-K, Cu","e":961,"i":17190},{"s":"Fe/Dispal-K, Cu","e":960.7,"i":17350},{"s":"Fe/Dispal-K, Cu","e":960.5,"i":17290},{"s":"Fe/Dispal-K, Cu","e":960.2,"i":17100},{"s":"Fe/Dispal-K, Cu","e":960,"i":17080},{"s":"Fe/Dispal-K, Cu","e":959.7,"i":16950},{"s":"Fe/Dispal-K, Cu","e":959.5,"i":16875},{"s":"Fe/Dispal-K, Cu","e":959.2,"i":17050},{"s":"Fe/Dispal-K, Cu","e":959,"i":16980},{"s":"Fe/Dispal-K, Cu","e":958.7,"i":17150},{"s":"Fe/Dispal-K, Cu","e":958.5,"i":17290},{"s":"Fe/Dispal-K, Cu","e":958.2,"i":17400},{"s":"Fe/Dispal-K, Cu","e":958,"i":17500},{"s":"Fe/Dispal-K, Cu","e":957.7,"i":17700},{"s":"Fe/Dispal-K, Cu","e":957.5,"i":17920},{"s":"Fe/Dispal-K, Cu","e":957.2,"i":18050},{"s":"Fe/Dispal-K, Cu","e":957,"i":18230},{"s":"Fe/Dispal-K, Cu","e":956.7,"i":18500},{"s":"Fe/Dispal-K, Cu","e":956.5,"i":18850},{"s":"Fe/Dispal-K, Cu","e":956.2,"i":19300},{"s":"Fe/Dispal-K, Cu","e":956,"i":19580},{"s":"Fe/Dispal-K, Cu","e":955.7,"i":19380},{"s":"Fe/Dispal-K, Cu","e":955.5,"i":19170},{"s":"Fe/Dispal-K, Cu","e":955.2,"i":19250},{"s":"Fe/Dispal-K, Cu","e":955,"i":19060},{"s":"Fe/Dispal-K, Cu","e":954.7,"i":18900},{"s":"Fe/Dispal-K, Cu","e":954.5,"i":18750},{"s":"Fe/Dispal-K, Cu","e":954.2,"i":18400},{"s":"Fe/Dispal-K, Cu","e":954,"i":18125},{"s":"Fe/Dispal-K, Cu","e":953.7,"i":18050},{"s":"Fe/Dispal-K, Cu","e":953.5,"i":17920},{"s":"Fe/Dispal-K, Cu","e":953.2,"i":17700},{"s":"Fe/Dispal-K, Cu","e":953,"i":17500},{"s":"Fe/Dispal-K, Cu","e":952.7,"i":17200},{"s":"Fe/Dispal-K, Cu","e":952.5,"i":17080},{"s":"Fe/Dispal-K, Cu","e":952.2,"i":16850},{"s":"Fe/Dispal-K, Cu","e":952,"i":16770},{"s":"Fe/Dispal-K, Cu","e":951.7,"i":16750},{"s":"Fe/Dispal-K, Cu","e":951.5,"i":16670},{"s":"Fe/Dispal-K, Cu","e":951.2,"i":16400},{"s":"Fe/Dispal-K, Cu","e":951,"i":16250},{"s":"Fe/Dispal-K, Cu","e":950.7,"i":16100},{"s":"Fe/Dispal-K, Cu","e":950.5,"i":16040},{"s":"Fe/Dispal-K, Cu","e":950.2,"i":16200},{"s":"Fe/Dispal-K, Cu","e":950,"i":16140},{"s":"Fe/Dispal-K, Cu","e":949.7,"i":15950},{"s":"Fe/Dispal-K, Cu","e":949.5,"i":16040},{"s":"Fe/Dispal-K, Cu","e":949.2,"i":15900},{"s":"Fe/Dispal-K, Cu","e":949,"i":15940},{"s":"Fe/Dispal-K, Cu","e":948.7,"i":16000},{"s":"Fe/Dispal-K, Cu","e":948.5,"i":15830},{"s":"Fe/Dispal-K, Cu","e":948.2,"i":15950},{"s":"Fe/Dispal-K, Cu","e":948,"i":16040},{"s":"Fe/Dispal-K, Cu","e":947.7,"i":16150},{"s":"Fe/Dispal-K, Cu","e":947.5,"i":16250},{"s":"Fe/Dispal-K, Cu","e":947.2,"i":16500},{"s":"Fe/Dispal-K, Cu","e":947,"i":16670},{"s":"Fe/Dispal-K, Cu","e":946.7,"i":16900},{"s":"Fe/Dispal-K, Cu","e":946.5,"i":17080},{"s":"Fe/Dispal-K, Cu","e":946.2,"i":17300},{"s":"Fe/Dispal-K, Cu","e":946,"i":17500},{"s":"Fe/Dispal-K, Cu","e":945.7,"i":17290},{"s":"Fe/Dispal-K, Cu","e":945.5,"i":17710},{"s":"Fe/Dispal-K, Cu","e":945.2,"i":17800},{"s":"Fe/Dispal-K, Cu","e":944.9,"i":17800},{"s":"Fe/Dispal-K, Cu","e":944.5,"i":18020},{"s":"Fe/Dispal-K, Cu","e":944.1,"i":18530},{"s":"Fe/Dispal-K, Cu","e":943.8,"i":18200},{"s":"Fe/Dispal-K, Cu","e":943.5,"i":18020},{"s":"Fe/Dispal-K, Cu","e":943.2,"i":17700},{"s":"Fe/Dispal-K, Cu","e":943,"i":18100},{"s":"Fe/Dispal-K, Cu","e":942.7,"i":17850},{"s":"Fe/Dispal-K, Cu","e":942.5,"i":17710},{"s":"Fe/Dispal-K, Cu","e":942.2,"i":17700},{"s":"Fe/Dispal-K, Cu","e":941.8,"i":17300},{"s":"Fe/Dispal-K, Cu","e":941.4,"i":17250},{"s":"Fe/Dispal-K, Cu","e":941,"i":16770},{"s":"Fe/Dispal-K, Cu","e":940.6,"i":16630},{"s":"Fe/Dispal-K, Cu","e":940.3,"i":16800},{"s":"Fe/Dispal-K, Cu","e":940,"i":16600},{"s":"Fe/Dispal-K, Cu","e":939.8,"i":16530},{"s":"Fe/Dispal-K, Cu","e":939.5,"i":16700},{"s":"Fe/Dispal-K, Cu","e":939,"i":16840},{"s":"Fe/Dispal-K, Cu","e":938.5,"i":17600},{"s":"Fe/Dispal-K, Cu","e":938,"i":18530},{"s":"Fe/Dispal-K, Cu","e":937.7,"i":19000},{"s":"Fe/Dispal-K, Cu","e":937.4,"i":19780},{"s":"Fe/Dispal-K, Cu","e":937.2,"i":19600},{"s":"Fe/Dispal-K, Cu","e":936.9,"i":20600},{"s":"Fe/Dispal-K, Cu","e":936.6,"i":21000},{"s":"Fe/Dispal-K, Cu","e":936.35,"i":21650},{"s":"Fe/Dispal-K, Cu","e":936,"i":22000},{"s":"Fe/Dispal-K, Cu","e":935.7,"i":22440},{"s":"Fe/Dispal-K, Cu","e":935.4,"i":22100},{"s":"Fe/Dispal-K, Cu","e":935,"i":21500},{"s":"Fe/Dispal-K, Cu","e":934.7,"i":21000},{"s":"Fe/Dispal-K, Cu","e":934.45,"i":20600},{"s":"Fe/Dispal-K, Cu","e":934.2,"i":19900},{"s":"Fe/Dispal-K, Cu","e":933.9,"i":19250},{"s":"Fe/Dispal-K, Cu","e":933.6,"i":18900},{"s":"Fe/Dispal-K, Cu","e":933.4,"i":18420},{"s":"Fe/Dispal-K, Cu","e":933,"i":18000},{"s":"Fe/Dispal-K, Cu","e":932.6,"i":17590},{"s":"Fe/Dispal-K, Cu","e":932.2,"i":17000},{"s":"Fe/Dispal-K, Cu","e":931.8,"i":16440},{"s":"Fe/Dispal-K, Cu","e":931.4,"i":16200},{"s":"Fe/Dispal-K, Cu","e":931,"i":16030},{"s":"Fe/Dispal-K, Cu","e":930.7,"i":15700},{"s":"Fe/Dispal-K, Cu","e":930.45,"i":15420},{"s":"Fe/Dispal-K, Cu","e":930.1,"i":15350},{"s":"Fe/Dispal-K, Cu","e":929.8,"i":15200},{"s":"Fe/Dispal-K, Cu","e":929.5,"i":16030},{"s":"Fe/Dispal-K, Cu","e":929.1,"i":15600}
]
},
"concat": [
{
 "width": 591, "height": 383,
 "title": {"text": "Al2s", "dy": 5},
 "layer": [
  {"data": {"name": "al2s"},
   "mark": {"type": "line", "strokeWidth": 1.2, "strokeDash": [4, 2], "clip": true},
   "encoding": {
    "x": {"field": "e", "type": "quantitative", "scale": {"domain": [111.05, 128], "reverse": true, "nice": false, "zero": false},
          "axis": {"title": "Binding Energy (eV)", "labelOverlap": false, "tickCount": 100, "values": [112,113,114,115,116,117,118,119,120,121,122,123,124,125,126,127,128], "labelExpr": "datum.value % 2 === 0 ? datum.label : ''", "tickSize": {"condition": {"test": "datum.value % 2 === 0", "value": 7}, "value": 4}}},
    "y": {"field": "i", "type": "quantitative", "scale": {"domain": [1650, 8400], "nice": false, "zero": false},
          "axis": {"title": "Arbitrary units", "labelOverlap": false, "tickCount": 100, "values": [2000,2500,3000,3500,4000,4500,5000,5500,6000,6500,7000,7500,8000], "labelExpr": "datum.value % 1000 === 0 ? datum.label : ''", "tickSize": {"condition": {"test": "datum.value % 1000 === 0", "value": -9}, "value": -5}}},
    "color": {"field": "s", "type": "nominal", "scale": {"domain": ["Fe/Catalox-K, Cu", "Fe/Dispal-K, Cu"], "range": ["#2b2b7b", "#e3a444"]},
              "legend": {"legendX": 40, "legendY": 110, "symbolOpacity": 0.25}}
   }
  }
 ]
},
{
 "width": 591, "height": 383,
 "title": {"text": "Fe2p", "dy": 13},
 "layer": [
  {"data": {"name": "fe2p"},
   "mark": {"type": "line", "strokeWidth": 1.2, "strokeDash": [4, 2], "clip": true},
   "encoding": {
    "x": {"field": "e", "type": "quantitative", "scale": {"domain": [703.1, 740], "reverse": true, "nice": false, "zero": false},
          "axis": {"title": "Binding Energy (eV)", "labelOverlap": false, "tickCount": 100, "values": [705,707.5,710,712.5,715,717.5,720,722.5,725,727.5,730,732.5,735,737.5,740], "labelExpr": "datum.value % 5 === 0 ? datum.label : ''", "tickSize": {"condition": {"test": "datum.value % 5 === 0", "value": 7}, "value": 4}}},
    "y": {"field": "i", "type": "quantitative", "scale": {"domain": [7000, 20000], "nice": false, "zero": false},
          "axis": {"title": "Arbitrary units", "labelOverlap": false, "tickCount": 100, "values": [7000,8000,9000,10000,11000,12000,13000,14000,15000,16000,17000,18000,19000,20000], "labelExpr": "datum.value % 2000 === 0 ? datum.label : ''", "tickSize": {"condition": {"test": "datum.value % 2000 === 0", "value": -9}, "value": -5}}},
    "color": {"field": "s", "type": "nominal", "scale": {"domain": ["Fe/Catalox-K, Cu", "Fe/Dispal-K, Cu"], "range": ["#2b2b7b", "#e3a444"]},
              "legend": {"legendX": 61, "legendY": 285}}
   }
  },
  {"data": {"values": [{"x": 719.6, "y": 17187, "y2": 16600}]},
   "mark": {"type": "rule", "color": "#444", "strokeWidth": 1.2},
   "encoding": {"x": {"field": "x", "type": "quantitative"}, "y": {"field": "y", "type": "quantitative"}, "y2": {"field": "y2"}}},
  {"data": {"values": [{"x": 719.6, "y": 16600, "y2": 14475}]},
   "mark": {"type": "rule", "color": "#aaa", "strokeWidth": 1.2},
   "encoding": {"x": {"field": "x", "type": "quantitative"}, "y": {"field": "y", "type": "quantitative"}, "y2": {"field": "y2"}}},
  {"data": {"values": [{"x": 722.47, "y": 19085, "t": "Fe(III) oxide"}, {"x": 722.47, "y": 18238, "t": "shake up"}, {"x": 714.49, "y": 18238, "t": "Fe(III) oxide"}]},
   "mark": {"type": "text", "align": "left", "baseline": "middle"},
   "encoding": {"x": {"field": "x", "type": "quantitative"}, "y": {"field": "y", "type": "quantitative"}, "text": {"field": "t"}}},
  {"data": {"values": [{"x": 729.2, "y": 16848, "t": "Fe2p"}, {"x": 715.8, "y": 16543, "t": "Fe2p"}]},
   "mark": {"type": "text", "align": "right", "baseline": "middle"},
   "encoding": {"x": {"field": "x", "type": "quantitative"}, "y": {"field": "y", "type": "quantitative"}, "text": {"field": "t"}}},
  {"data": {"values": [{"x": 729.2, "y": 16848, "t": "1/2"}, {"x": 715.8, "y": 16543, "t": "3/2"}]},
   "mark": {"type": "text", "align": "left", "baseline": "middle", "fontSize": 12, "dy": 7},
   "encoding": {"x": {"field": "x", "type": "quantitative"}, "y": {"field": "y", "type": "quantitative"}, "text": {"field": "t"}}}
 ]
},
{
 "width": 591, "height": 385,
 "title": {"text": "K2p", "dy": 14},
 "layer": [
  {"data": {"name": "k2p"},
   "mark": {"type": "line", "strokeWidth": 1.2, "strokeDash": [4, 2], "clip": true},
   "encoding": {
    "x": {"field": "e", "type": "quantitative", "scale": {"domain": [280, 304], "reverse": true, "nice": false, "zero": false},
          "axis": {"title": "Binding Energy (eV)", "labelOverlap": false, "tickCount": 100, "values": [280,281,282,283,284,285,286,287,288,289,290,291,292,293,294,295,296,297,298,299,300,301,302,303,304], "labelExpr": "datum.value % 2 === 0 ? datum.label : ''", "tickSize": {"condition": {"test": "datum.value % 2 === 0", "value": 7}, "value": 4}}},
    "y": {"field": "i", "type": "quantitative", "scale": {"domain": [1750, 4600], "nice": false, "zero": false},
          "axis": {"title": "Arbitrary units", "labelOverlap": false, "tickCount": 100, "values": [1800,1900,2000,2100,2200,2300,2400,2500,2600,2700,2800,2900,3000,3100,3200,3300,3400,3500,3600,3700,3800,3900,4000,4100,4200,4300,4400,4500,4600], "labelExpr": "datum.value % 200 === 0 ? datum.label : ''", "tickSize": {"condition": {"test": "datum.value % 200 === 0", "value": -9}, "value": -5}}},
    "color": {"field": "s", "type": "nominal", "scale": {"domain": ["Fe/Catalox-K, Cu", "Fe/Dispal-K, Cu"], "range": ["#2b2b7b", "#e3a444"]},
              "legend": {"legendX": 379, "legendY": 23, "encode": {"symbols": {"update": {"opacity": {"signal": "datum.value === 'Fe/Dispal-K, Cu' ? 0 : 1"}}}}}}
   }
  },
  {"data": {"values": [{"x": 293.32, "y": 4015, "y2": 1750}]},
   "mark": {"type": "rule", "color": "#aaa", "strokeWidth": 1.2},
   "encoding": {"x": {"field": "x", "type": "quantitative"}, "y": {"field": "y", "type": "quantitative"}, "y2": {"field": "y2"}}},
  {"data": {"values": [{"x": 293.27, "y": 4170, "t": "K-O"}, {"x": 284.73, "y": 3837, "t": "C1s"}]},
   "mark": {"type": "text", "align": "center", "baseline": "middle"},
   "encoding": {"x": {"field": "x", "type": "quantitative"}, "y": {"field": "y", "type": "quantitative"}, "text": {"field": "t"}}},
  {"data": {"values": [{"x": 298.35, "y": 2941, "t": "K2p"}, {"x": 290.06, "y": 3437, "t": "K2p"}]},
   "mark": {"type": "text", "align": "right", "baseline": "middle"},
   "encoding": {"x": {"field": "x", "type": "quantitative"}, "y": {"field": "y", "type": "quantitative"}, "text": {"field": "t"}}},
  {"data": {"values": [{"x": 298.35, "y": 2941, "t": "1/2"}, {"x": 290.06, "y": 3437, "t": "3/2"}]},
   "mark": {"type": "text", "align": "left", "baseline": "middle", "fontSize": 12, "dy": 7},
   "encoding": {"x": {"field": "x", "type": "quantitative"}, "y": {"field": "y", "type": "quantitative"}, "text": {"field": "t"}}}
 ]
},
{
 "width": 591, "height": 385,
 "title": {"text": "Cu2p", "dy": 6},
 "layer": [
  {"data": {"name": "cu2p"},
   "mark": {"type": "line", "strokeWidth": 1.2, "strokeDash": [4, 2], "clip": true},
   "encoding": {
    "x": {"field": "e", "type": "quantitative", "scale": {"domain": [929.1, 970], "reverse": true, "nice": false, "zero": false},
          "axis": {"title": "Binding Energy (eV)", "labelOverlap": false, "tickCount": 100, "values": [930,932.5,935,937.5,940,942.5,945,947.5,950,952.5,955,957.5,960,962.5,965,967.5,970], "labelExpr": "datum.value % 5 === 0 ? datum.label : ''", "tickSize": {"condition": {"test": "datum.value % 5 === 0", "value": 7}, "value": 4}}},
    "y": {"field": "i", "type": "quantitative", "scale": {"domain": [14040, 26000], "nice": false, "zero": false},
          "axis": {"title": "Arbitrary units", "labelOverlap": false, "tickCount": 100, "values": [15000, 20000, 25000], "labelExpr": "datum.value === 20000 ? datum.label : ''", "tickSize": {"condition": {"test": "datum.value === 20000", "value": -9}, "value": -5}}},
    "color": {"field": "s", "type": "nominal", "scale": {"domain": ["Fe/Catalox-K, Cu", "Fe/Dispal-K, Cu"], "range": ["#2b2b7b", "#e3a444"]},
              "legend": {"legendX": 16, "legendY": 320, "encode": {"symbols": {"update": {"opacity": {"signal": "datum.value === 'Fe/Catalox-K, Cu' ? 0 : 1"}}}}}}
   }
  },
  {"data": {"values": [{"x": 935.0, "y": 24625, "y2": 14040}, {"x": 943.3, "y": 18000, "y2": 14040}]},
   "mark": {"type": "rule", "color": "#333", "strokeWidth": 1.2},
   "encoding": {"x": {"field": "x", "type": "quantitative"}, "y": {"field": "y", "type": "quantitative"}, "y2": {"field": "y2"}}},
  {"data": {"values": [{"x": 936.11, "y": 25031, "t": "Cu(II) oxide"}, {"x": 945.64, "y": 19406, "t": "Cu(II) shake up"}]},
   "mark": {"type": "text", "align": "center", "baseline": "middle"},
   "encoding": {"x": {"field": "x", "type": "quantitative"}, "y": {"field": "y", "type": "quantitative"}, "text": {"field": "t"}}},
  {"data": {"values": [{"x": 956.61, "y": 20594, "t": "Cu2p"}, {"x": 939.63, "y": 21437, "t": "Cu2p"}]},
   "mark": {"type": "text", "align": "right", "baseline": "middle"},
   "encoding": {"x": {"field": "x", "type": "quantitative"}, "y": {"field": "y", "type": "quantitative"}, "text": {"field": "t"}}},
  {"data": {"values": [{"x": 956.61, "y": 20594, "t": "1/2"}, {"x": 939.63, "y": 21437, "t": "3/2"}]},
   "mark": {"type": "text", "align": "left", "baseline": "middle", "fontSize": 12, "dy": 7},
   "encoding": {"x": {"field": "x", "type": "quantitative"}, "y": {"field": "y", "type": "quantitative"}, "text": {"field": "t"}}}
 ]
}
]
}
